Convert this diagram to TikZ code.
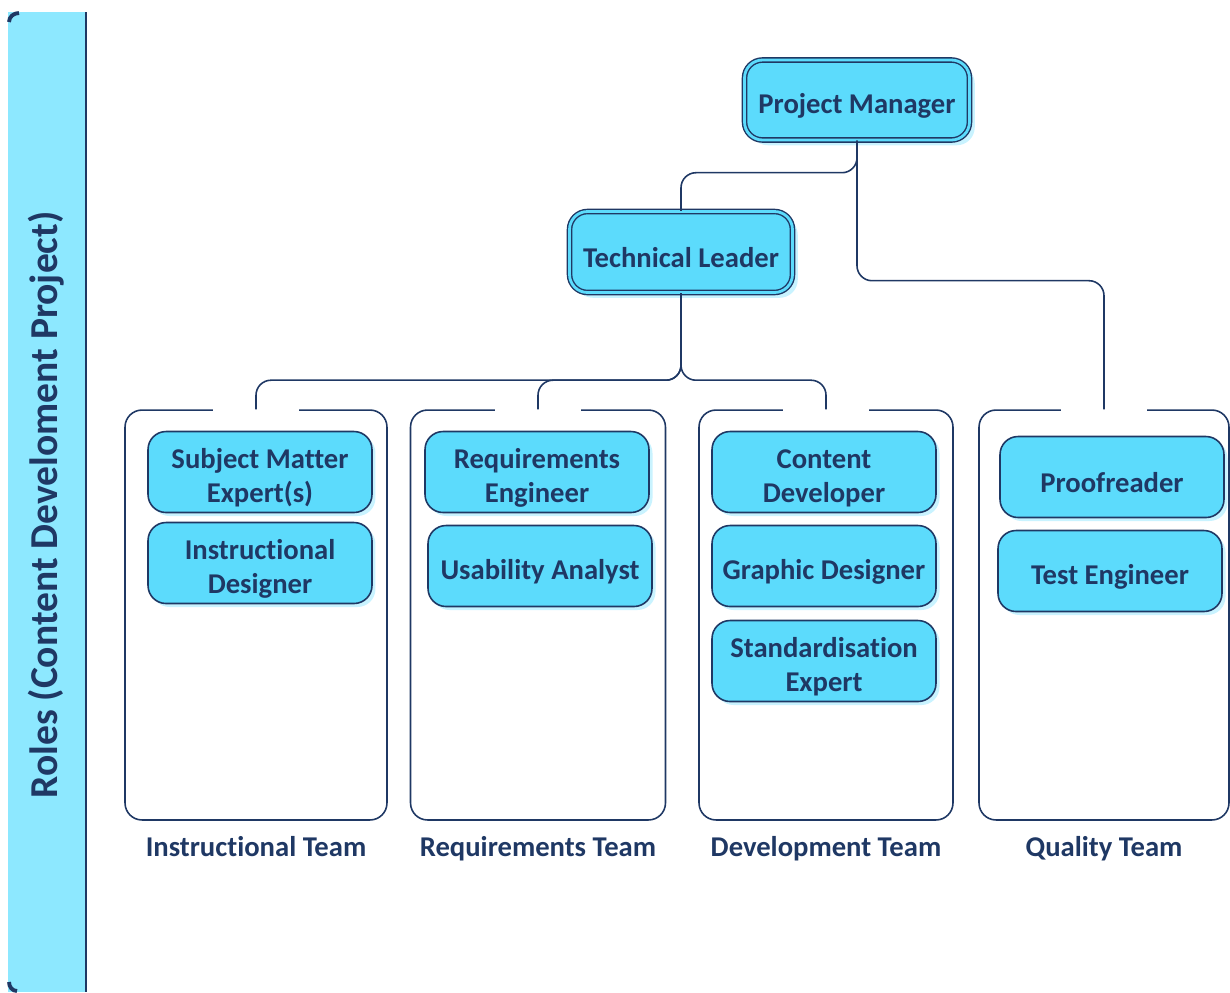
\documentclass[tikz,border=0pt]{standalone}
\usepackage{fontspec}
\setmainfont{Carlito}[Ligatures=NoCommon]
\usepackage{tikz}
\usetikzlibrary{shadows}
\definecolor{navy}{HTML}{1F3864}
\definecolor{rolecyan}{HTML}{5CDBFC}
\definecolor{barcyan}{HTML}{8DE8FF}
\definecolor{glow}{HTML}{C9F3FF}
\tikzset{
    role/.style={shape=rectangle, rounded corners=0.36cm, draw=navy, line width=0.9pt,
        fill=rolecyan, text=navy, font=\bfseries\fontsize{16.3}{19.5}\selectfont,
        align=center, minimum width=4.48cm, minimum height=1.62cm, inner sep=2pt,
        text height=18pt,
        drop shadow={shadow xshift=2pt, shadow yshift=-2pt, fill=glow, opacity=1}},
    tworole/.style={role, text height=37.5pt, text depth=3pt, inner ysep=1pt},
    lead/.style={role, double=rolecyan, double distance=1.6pt, line width=0.8pt,
        drop shadow={shadow xshift=3pt, shadow yshift=-3pt, fill=glow, opacity=1}},
    team/.style={shape=rectangle, rounded corners=0.34cm, draw=navy, line width=0.9pt,
        minimum height=8.2cm},
    teamlabel/.style={text=navy, font=\bfseries\fontsize{16.3}{19}\selectfont, anchor=base},
    link/.style={draw=navy, line width=0.9pt, rounded corners=0.3cm}
}

\begin{document}
\begin{tikzpicture}[x=0.02cm, y=-0.02cm]
    \useasboundingbox (0,0) rectangle (1230,992);

    % side bar
    \fill[barcyan] (8,12) rectangle (86,992);
    \draw[navy, line width=1.2pt] (86,12) -- (86,992);
    \draw[navy, line width=2.2pt] (9,22) to[out=90, in=180] (19,13);
    \draw[navy, line width=2.2pt] (9,982) to[out=-90, in=180] (17,991);
    \node[rotate=90, text=navy, font=\bfseries\fontsize{22.5}{26}\selectfont] (roles) at (46,505) {Roles (Content Develoment Project)};

    % leaders
    \node[lead, minimum width=4.5cm, minimum height=1.6cm] (PM) at (857,100) {Project Manager};
    \node[lead, minimum width=4.46cm, minimum height=1.62cm] (TL) at (681,252) {Technical Leader};

    % teams
    \node[team, minimum width=5.24cm] (IT) at (256,615) {};
    \node[team, minimum width=5.1cm] (RT) at (538,615) {};
    \node[team, minimum width=5.08cm] (DT) at (826,615) {};
    \node[team, minimum width=5cm] (QT) at (1104,615) {};
    \foreach \t in {IT, RT, DT, QT}
        \fill[white] ([xshift=-0.86cm, yshift=-6pt]\t.north) rectangle ([xshift=0.86cm, yshift=6pt]\t.north);

    \node[teamlabel] (ITl) at (256,856) {Instructional Team};
    \node[teamlabel] (RTl) at (538,856) {Requirements Team};
    \node[teamlabel] (DTl) at (826,856) {Development Team};
    \node[teamlabel] (QTl) at (1104,856) {Quality Team};

    % roles in the teams
    \node[tworole] (SME) at (260,472) {Subject Matter\\Expert(s)};
    \node[tworole] (ID) at (260,563) {Instructional\\Designer};
    \node[tworole] (RE) at (537,472) {Requirements\\Engineer};
    \node[role] (UA) at (540,566) {Usability Analyst};
    \node[tworole] (CD) at (824,472) {Content\\Developer};
    \node[role] (GD) at (824,566) {Graphic Designer};
    \node[tworole] (SE) at (824,661) {Standardisation\\Expert};
    \node[role] (PR) at (1112,477) {Proofreader};
    \node[role] (TE) at (1110,571) {Test Engineer};

    % reporting lines
    \draw[link] (PM.south) -- ++(0,32) -| (TL.north);
    \draw[link] (PM.south) -- ++(0,140) -| (QT.north);
    \draw[link] (TL.south) -- ++(0,87) -| (IT.north);
    \draw[link] (TL.south) -- ++(0,87) -| (RT.north);
    \draw[link] (TL.south) -- ++(0,87) -| (DT.north);

\end{tikzpicture}
\end{document}
